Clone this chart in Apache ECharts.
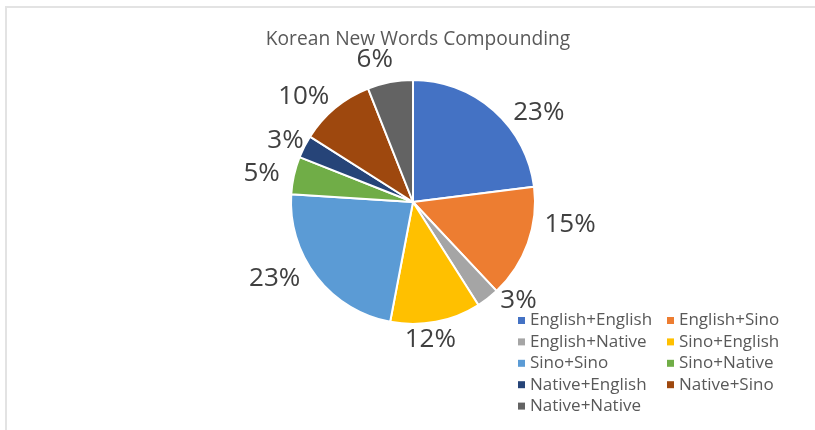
<!DOCTYPE html>
<html>
<head>
<meta charset="utf-8">
<script src="https://cdn.jsdelivr.net/npm/echarts@6/dist/echarts.min.js"></script>
<style>
html,body{margin:0;padding:0;background:#fff;}
#chart{width:815px;height:430px;}
</style>
</head>
<body>
<div id="chart"></div>
<script>
const categories = ["English+English","English+Sino","English+Native","Sino+English","Sino+Sino","Sino+Native","Native+English","Native+Sino","Native+Native"];
const values = [23, 15, 3, 12, 23, 5, 3, 10, 6];
const colors = ["#4472C4","#ED7D31","#A5A5A5","#FFC000","#5B9BD5","#70AD47","#264478","#9E480E","#636363"];
const titleText = "Korean New Words Compounding";

// label nudges (style only): Excel "best fit" placement relative to the mid-angle anchor
const labelNudge = [[26,24],[15,-29],[13,-21],[-11,-11],[-19,-16],[-4,5],[7,7],[-13,11],[-10,6]];

const FONT = "'Open Sans', 'Liberation Sans', sans-serif";
const total = values.reduce((a, b) => a + b, 0);
const pieData = categories.map((c, i) => ({ name: c, value: values[i] }));
const labelData = categories.map((c, i) => ({ name: c, value: values[i], label: { offset: labelNudge[i] } }));
const legendColA = categories.filter((_, i) => i % 2 === 0);
const legendColB = categories.filter((_, i) => i % 2 === 1);

const legendBase = {
  orient: 'vertical',
  icon: 'rect',
  itemWidth: 7, itemHeight: 7,
  itemGap: 4.4,
  textStyle: { fontFamily: FONT, fontSize: 17, color: '#595959' },
  itemStyle: { borderWidth: 0 },
  selectedMode: false
};

const chart = echarts.init(document.getElementById('chart'));
chart.setOption({
  animation: false,
  color: colors,
  title: {
    text: titleText,
    left: 413, top: 25,
    textAlign: 'center',
    textStyle: { fontFamily: FONT, fontSize: 19.2, fontWeight: 'normal', color: '#595959' }
  },
  graphic: [{
    type: 'polyline',
    shape: { points: [[6, 440], [6, 7], [830, 7]] },
    style: { stroke: '#e3e3e3', lineWidth: 2, fill: null },
    silent: true
  }],
  legend: [
    Object.assign({}, legendBase, { data: legendColA, left: 513, top: 307 }),
    Object.assign({}, legendBase, { data: legendColB, left: 662, top: 307 })
  ],
  series: [{
    type: 'pie',
    center: [413, 202],
    radius: [0, 122],
    startAngle: 90,
    clockwise: true,
    data: pieData,
    itemStyle: { borderColor: '#fff', borderWidth: 2 },
    label: { show: false },
    labelLine: { show: false },
    silent: true
  }, {
    type: 'pie',
    center: [413, 202],
    radius: [0, 296],
    startAngle: 90,
    clockwise: true,
    data: labelData,
    itemStyle: { color: 'rgba(0,0,0,0)', borderWidth: 0 },
    label: {
      show: true, position: 'inside',
      formatter: p => Math.round(p.value / total * 100) + '%',
      fontFamily: FONT, fontSize: 26, color: '#404040'
    },
    labelLine: { show: false },
    silent: true,
    z: 1
  }]
});
</script>
</body>
</html>
